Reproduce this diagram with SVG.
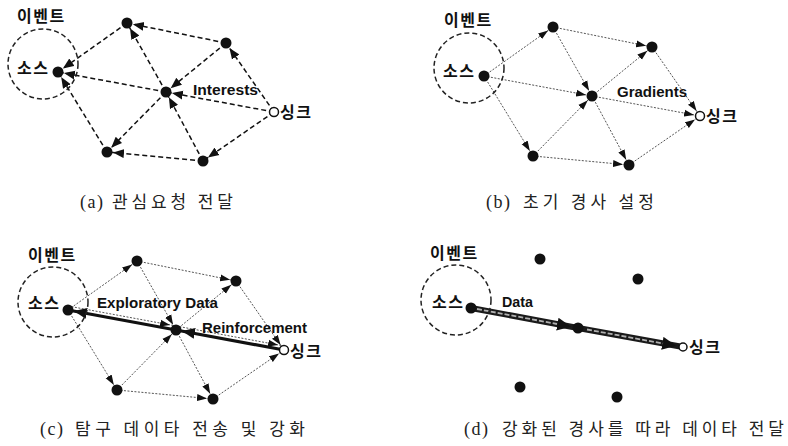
<svg xmlns="http://www.w3.org/2000/svg" width="788" height="446" viewBox="0 0 788 446">
  <style>
    .bg { fill: #ffffff; }
    .dash { fill: none; stroke: #111; stroke-width: 1.5; stroke-dasharray: 5 3; }
    .dot { fill: none; stroke: #555; stroke-width: 1; stroke-dasharray: 2 1.5; }
    .bold { fill: none; stroke: #111; stroke-width: 3.2; }
    .band { fill: none; stroke: #1a1a1a; stroke-width: 6; }
    .band-in { fill: none; stroke: #b0b0b0; stroke-width: 1.8; stroke-dasharray: 5 2; }
    .event { fill: none; stroke: #222; stroke-width: 1.5; stroke-dasharray: 5 3; }
    .node { fill: #111; }
    .sink { fill: #fff; stroke: #111; stroke-width: 1.5; }
    .ko { font-family: "Noto Sans CJK KR", "Noto Sans", sans-serif; font-weight: bold; font-size: 16px; fill: #111; letter-spacing: 1.5px; }
    .en { font-family: "Liberation Sans", Arial, sans-serif; font-weight: bold; font-size: 14px; fill: #111; }
    .cap { font-family: "Liberation Serif", "Noto Sans CJK KR", serif; font-size: 18px; fill: #222; letter-spacing: 1.5px; }
    .capk { font-family: "Noto Sans CJK KR", "Liberation Serif", serif; font-size: 17px; fill: #222; }
  </style>
  <defs>
    <marker id="ah-dash" markerUnits="userSpaceOnUse" viewBox="0 0 18 10" markerWidth="18" markerHeight="10" refX="17" refY="5" orient="auto">
      <path d="M0,0.5 L11,5 L0,9.5 Z" fill="#111"/>
    </marker>
    <marker id="ah-dot" markerUnits="userSpaceOnUse" viewBox="0 0 16 8" markerWidth="16" markerHeight="8" refX="16" refY="4" orient="auto">
      <path d="M0,0.5 L10,4 L0,7.5 Z" fill="#111"/>
    </marker>
    <marker id="ah-bold" markerUnits="userSpaceOnUse" viewBox="0 0 20 11" markerWidth="20" markerHeight="11" refX="19" refY="5.5" orient="auto">
      <path d="M0,0 L13,5.5 L0,11 Z" fill="#111"/>
    </marker>
    <marker id="ah-band" markerUnits="userSpaceOnUse" viewBox="0 0 22 13" markerWidth="22" markerHeight="13" refX="21" refY="6.5" orient="auto">
      <path d="M0,0 L14,6.5 L0,13 Z" fill="#111"/>
    </marker>
  </defs>

  <rect class="bg" x="0" y="0" width="788" height="446"/>

  <!-- Node layout shared by all four panels (relative to the source node):
       S(0,0) T(69,-49) TR(168,-29) C(108,20) K(216,40) BL(49,80) BR(145,89) -->

  <!-- (a) interest propagation -->
  <g id="panel-a" transform="translate(58,72)">
    <g id="a-connectors">
      <line class="dash" x1="168" y1="-29" x2="69" y2="-49" marker-end="url(#ah-dash)"/>
      <line class="dash" x1="69" y1="-49" x2="0" y2="0" marker-end="url(#ah-dash)"/>
      <line class="dash" x1="108" y1="20" x2="69" y2="-49" marker-end="url(#ah-dash)"/>
      <line class="dash" x1="168" y1="-29" x2="108" y2="20" marker-end="url(#ah-dash)"/>
      <line class="dash" x1="108" y1="20" x2="0" y2="0" marker-end="url(#ah-dash)"/>
      <line class="dash" x1="216" y1="40" x2="168" y2="-29" marker-end="url(#ah-dash)"/>
      <line class="dash" x1="216" y1="40" x2="108" y2="20" marker-end="url(#ah-dash)"/>
      <line class="dash" x1="216" y1="40" x2="145" y2="89" marker-end="url(#ah-dash)"/>
      <line class="dash" x1="108" y1="20" x2="49" y2="80" marker-end="url(#ah-dash)"/>
      <line class="dash" x1="145" y1="89" x2="49" y2="80" marker-end="url(#ah-dash)"/>
      <line class="dash" x1="49" y1="80" x2="0" y2="0" marker-end="url(#ah-dash)"/>
      <line class="dash" x1="145" y1="89" x2="108" y2="20" marker-end="url(#ah-dash)"/>
    </g>
    <g id="a-event"><circle class="event" cx="-15" cy="-8" r="35"/><text class="ko" x="-41" y="-50">이벤트</text></g>
    <g id="a-source"><circle class="node" cx="0" cy="0" r="5.5"/><text class="ko" x="-41" y="2">소스</text></g>
    <g id="a-top"><circle class="node" cx="69" cy="-49" r="5.5"/></g>
    <g id="a-top-right"><circle class="node" cx="168" cy="-29" r="5.5"/></g>
    <g id="a-center"><circle class="node" cx="108" cy="20" r="5.5"/></g>
    <g id="a-bottom-left"><circle class="node" cx="49" cy="80" r="5.5"/></g>
    <g id="a-bottom-right"><circle class="node" cx="145" cy="89" r="5.5"/></g>
    <g id="a-sink"><circle class="sink" cx="216" cy="40" r="4.5"/><text class="ko" x="222" y="46">싱크</text></g>
    <text class="en" x="135" y="23" textLength="65" lengthAdjust="spacingAndGlyphs">Interests</text>
  </g>

  <!-- (b) initial gradient setup -->
  <g id="panel-b" transform="translate(484,76)">
    <g id="b-connectors">
      <line class="dot" x1="0" y1="0" x2="69" y2="-49" marker-end="url(#ah-dot)"/>
      <line class="dot" x1="0" y1="0" x2="108" y2="20" marker-end="url(#ah-dot)"/>
      <line class="dot" x1="0" y1="0" x2="49" y2="80" marker-end="url(#ah-dot)"/>
      <line class="dot" x1="69" y1="-49" x2="168" y2="-29" marker-end="url(#ah-dot)"/>
      <line class="dot" x1="69" y1="-49" x2="108" y2="20" marker-end="url(#ah-dot)"/>
      <line class="dot" x1="168" y1="-29" x2="216" y2="40" marker-end="url(#ah-dot)"/>
      <line class="dot" x1="108" y1="20" x2="168" y2="-29" marker-end="url(#ah-dot)"/>
      <line class="dot" x1="108" y1="20" x2="216" y2="40" marker-end="url(#ah-dot)"/>
      <line class="dot" x1="108" y1="20" x2="145" y2="89" marker-end="url(#ah-dot)"/>
      <line class="dot" x1="49" y1="80" x2="108" y2="20" marker-end="url(#ah-dot)"/>
      <line class="dot" x1="49" y1="80" x2="145" y2="89" marker-end="url(#ah-dot)"/>
      <line class="dot" x1="145" y1="89" x2="216" y2="40" marker-end="url(#ah-dot)"/>
    </g>
    <g id="b-event"><circle class="event" cx="-15" cy="-8" r="35"/><text class="ko" x="-40" y="-50">이벤트</text></g>
    <g id="b-source"><circle class="node" cx="0" cy="0" r="5.5"/><text class="ko" x="-41" y="1">소스</text></g>
    <g id="b-top"><circle class="node" cx="69" cy="-49" r="5.5"/></g>
    <g id="b-top-right"><circle class="node" cx="168" cy="-29" r="5.5"/></g>
    <g id="b-center"><circle class="node" cx="108" cy="20" r="5.5"/></g>
    <g id="b-bottom-left"><circle class="node" cx="49" cy="80" r="5.5"/></g>
    <g id="b-bottom-right"><circle class="node" cx="145" cy="89" r="5.5"/></g>
    <g id="b-sink"><circle class="sink" cx="216" cy="40" r="4.5"/><text class="ko" x="222" y="46">싱크</text></g>
    <text class="en" x="133" y="21" textLength="70" lengthAdjust="spacingAndGlyphs">Gradients</text>
  </g>

  <!-- (c) exploratory data and reinforcement -->
  <g id="panel-c" transform="translate(68,310)">
    <g id="c-connectors">
      <line class="dot" x1="0" y1="0" x2="69" y2="-49" marker-end="url(#ah-dot)"/>
      <line class="dot" x1="0" y1="-4" x2="108" y2="16" marker-end="url(#ah-dot)"/>
      <line class="dot" x1="0" y1="0" x2="49" y2="80" marker-end="url(#ah-dot)"/>
      <line class="dot" x1="69" y1="-49" x2="168" y2="-29" marker-end="url(#ah-dot)"/>
      <line class="dot" x1="69" y1="-49" x2="108" y2="20" marker-end="url(#ah-dot)"/>
      <line class="dot" x1="168" y1="-29" x2="216" y2="40" marker-end="url(#ah-dot)"/>
      <line class="dot" x1="108" y1="20" x2="168" y2="-29" marker-end="url(#ah-dot)"/>
      <line class="dot" x1="108" y1="16" x2="216" y2="36" marker-end="url(#ah-dot)"/>
      <line class="dot" x1="108" y1="20" x2="145" y2="89" marker-end="url(#ah-dot)"/>
      <line class="dot" x1="49" y1="80" x2="108" y2="20" marker-end="url(#ah-dot)"/>
      <line class="dot" x1="49" y1="80" x2="145" y2="89" marker-end="url(#ah-dot)"/>
      <line class="dot" x1="145" y1="89" x2="216" y2="40" marker-end="url(#ah-dot)"/>
      <line class="bold" x1="108" y1="20" x2="0" y2="0" marker-end="url(#ah-bold)"/>
      <line class="bold" x1="216" y1="40" x2="108" y2="20" marker-end="url(#ah-bold)"/>
    </g>
    <g id="c-event"><circle class="event" cx="-15" cy="-8" r="35"/><text class="ko" x="-40" y="-49">이벤트</text></g>
    <g id="c-source"><circle class="node" cx="0" cy="0" r="5.5"/><text class="ko" x="-40" y="-1">소스</text></g>
    <g id="c-top"><circle class="node" cx="69" cy="-49" r="5.5"/></g>
    <g id="c-top-right"><circle class="node" cx="168" cy="-29" r="5.5"/></g>
    <g id="c-center"><circle class="node" cx="108" cy="20" r="5.5"/></g>
    <g id="c-bottom-left"><circle class="node" cx="49" cy="80" r="5.5"/></g>
    <g id="c-bottom-right"><circle class="node" cx="145" cy="89" r="5.5"/></g>
    <g id="c-sink"><circle class="sink" cx="216" cy="40" r="4.5"/><text class="ko" x="222" y="47">싱크</text></g>
    <text class="en" x="29" y="-2" textLength="121" lengthAdjust="spacingAndGlyphs">Exploratory Data</text>
    <text class="en" x="134" y="23" textLength="105" lengthAdjust="spacingAndGlyphs">Reinforcement</text>
  </g>

  <!-- (d) data along the reinforced gradient -->
  <g id="panel-d" transform="translate(471,308)">
    <g id="d-connectors">
      <line class="band" x1="0" y1="0" x2="107" y2="20" marker-end="url(#ah-band)"/>
      <line class="band-in" x1="6" y1="1" x2="86" y2="16"/>
      <line class="band" x1="107" y1="20" x2="212" y2="39" marker-end="url(#ah-band)"/>
      <line class="band-in" x1="116" y1="21.5" x2="192" y2="35.5"/>
    </g>
    <g id="d-event"><circle class="event" cx="-15" cy="-8" r="35"/><text class="ko" x="-41" y="-49">이벤트</text></g>
    <g id="d-source"><circle class="node" cx="0" cy="0" r="5.5"/><text class="ko" x="-39" y="0">소스</text></g>
    <g id="d-top"><circle class="node" cx="69" cy="-49" r="5.5"/></g>
    <g id="d-top-right"><circle class="node" cx="167" cy="-29" r="5.5"/></g>
    <g id="d-center"><circle class="node" cx="107" cy="20" r="5.5"/></g>
    <g id="d-bottom-left"><circle class="node" cx="49" cy="79" r="5.5"/></g>
    <g id="d-bottom-right"><circle class="node" cx="146" cy="89" r="5.5"/></g>
    <g id="d-sink"><circle class="sink" cx="212" cy="39" r="4" stroke-width="1.2"/><text class="ko" x="218" y="45">싱크</text></g>
    <text class="en" x="31" y="-1" textLength="31" lengthAdjust="spacingAndGlyphs">Data</text>
  </g>

  <!-- captions -->
  <g id="captions">
    <text class="cap" x="80" y="208">(a)</text>
    <text class="capk" x="112" y="208" textLength="121" lengthAdjust="spacing">관심요청 전달</text>
    <text class="cap" x="486" y="208">(b)</text>
    <text class="capk" x="523" y="208" textLength="131" lengthAdjust="spacing">초기 경사 설정</text>
    <text class="cap" x="40" y="435">(c)</text>
    <text class="capk" x="75" y="435" textLength="230" lengthAdjust="spacing">탐구 데이타 전송 및 강화</text>
    <text class="cap" x="464" y="435">(d)</text>
    <text class="capk" x="502" y="435" textLength="282" lengthAdjust="spacing">강화된 경사를 따라 데이타 전달</text>
  </g>
</svg>
